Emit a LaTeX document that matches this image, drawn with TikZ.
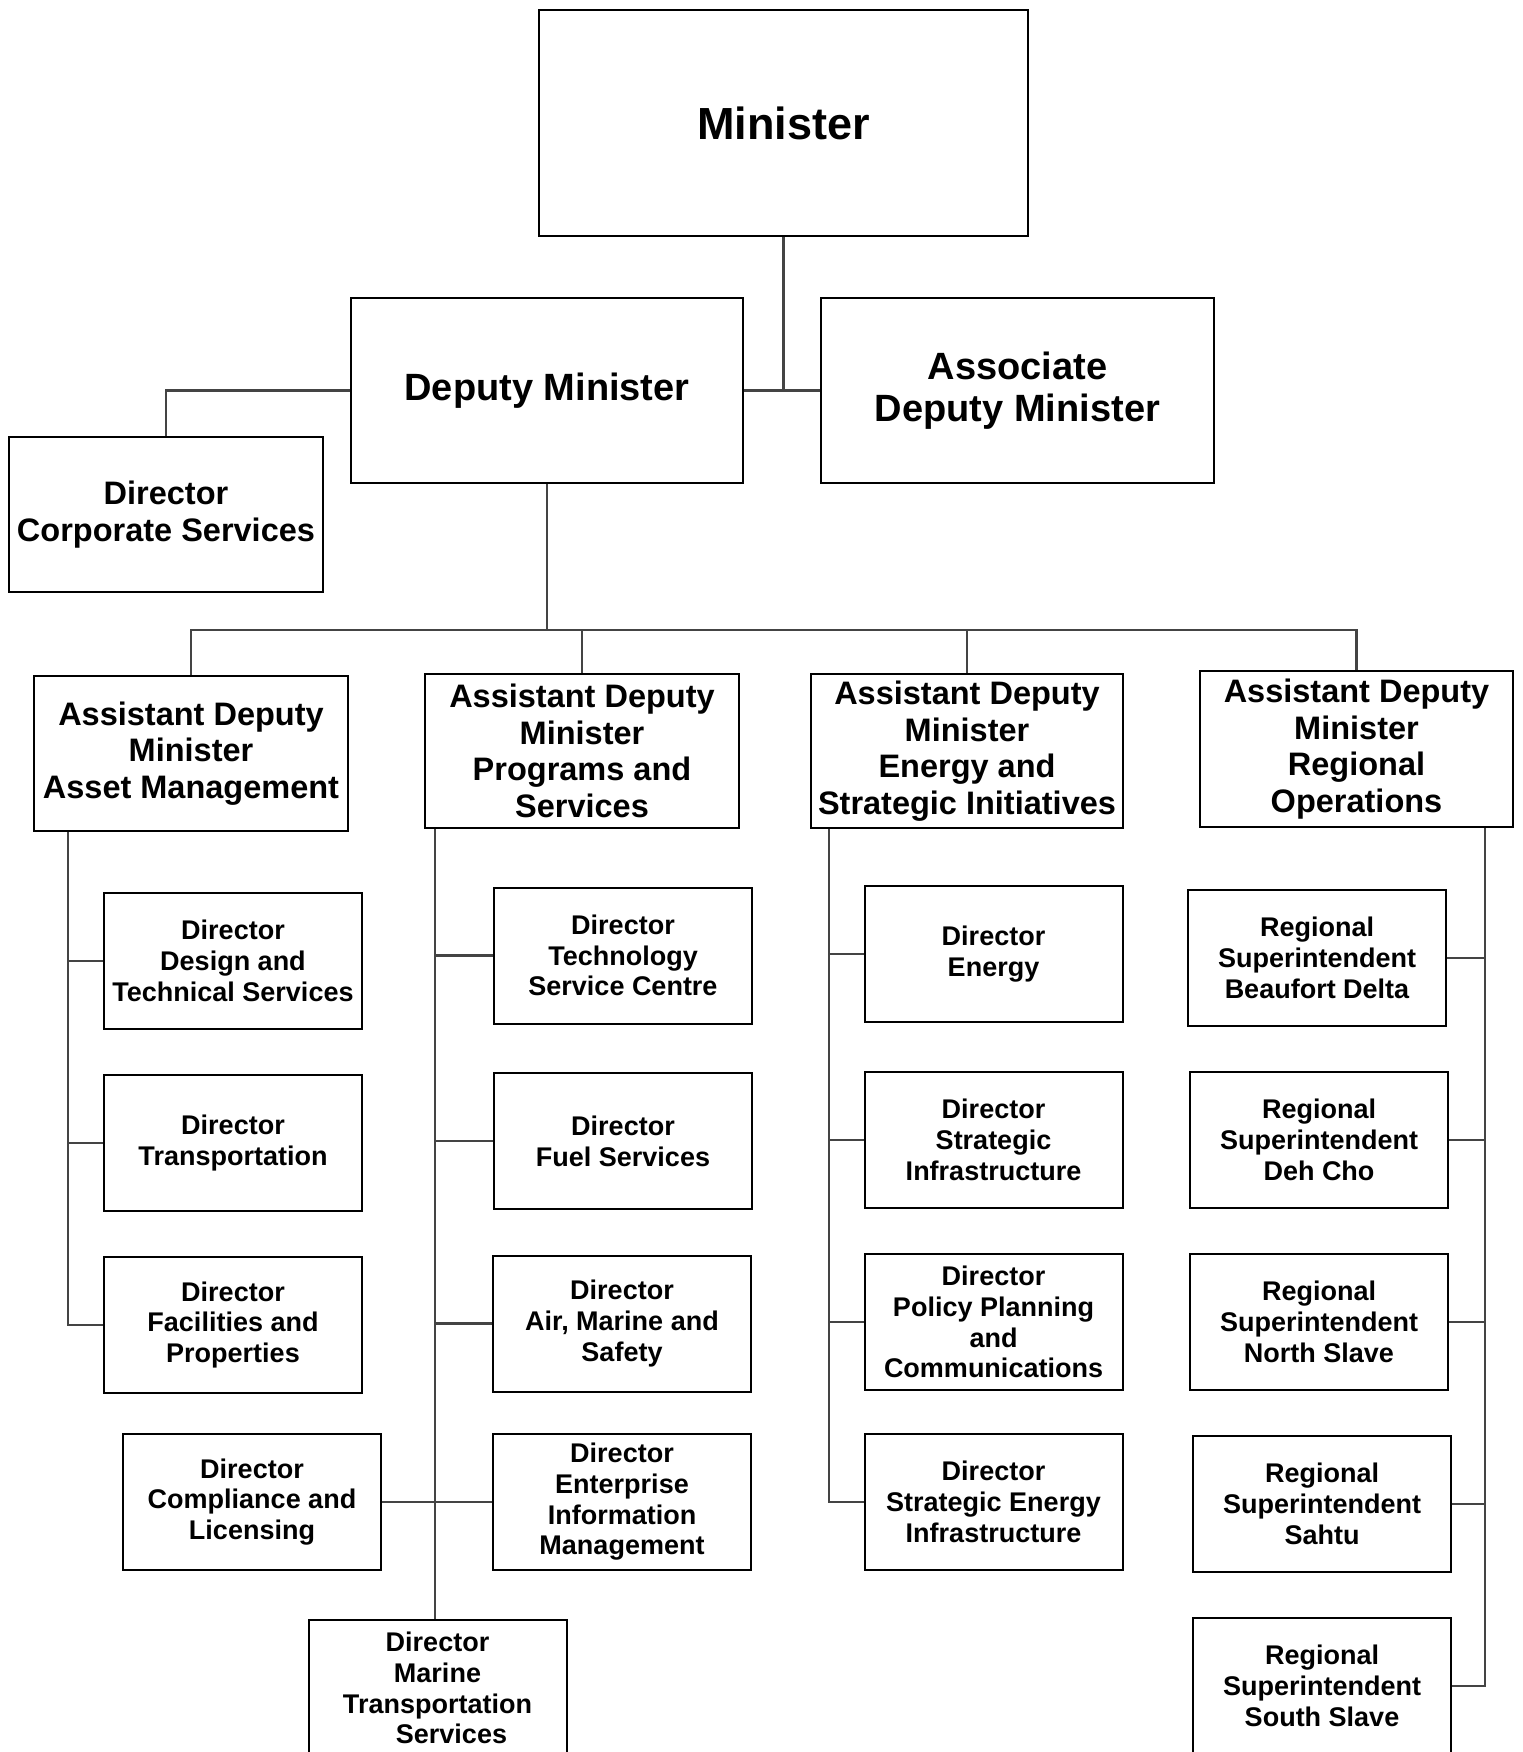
\documentclass[tikz,border=0pt]{standalone}
\usepackage{fontspec}
\setmainfont{Liberation Sans}
\begin{document}
\begin{tikzpicture}[x=1pt,y=-1pt,
  box/.style={draw=black,line width=2pt,fill=white,inner sep=0pt,align=center,font=\bfseries\fontsize{27}{30.7}\selectfont},
  sbox/.style={box,minimum width=258pt,minimum height=136pt},
  adm/.style={box,minimum width=314pt,minimum height=155pt,font=\bfseries\fontsize{32.5}{36.5}\selectfont},
  conn/.style={draw={rgb,255:red,68;green,68;blue,68},line width=2.5pt}]
\useasboundingbox (0,0) rectangle (1522,1752);
% top level
\node[box,minimum width=489pt,minimum height=226pt,font=\bfseries\fontsize{45}{50}\selectfont] (min) at (783.5,123) {Minister};
\node[box,minimum width=392pt,minimum height=185pt,font=\bfseries\fontsize{38}{42.5}\selectfont] (dm) at (547,390.5) {Deputy Minister};
\node[box,minimum width=393pt,minimum height=185pt,font=\bfseries\fontsize{38}{42.5}\selectfont] (asdm) at (1017.5,390.5) {Associate\\Deputy Minister};
\node[box,minimum width=314pt,minimum height=155pt,font=\bfseries\fontsize{32.5}{37}\selectfont] (dcs) at (166,514.5) {Director\\Corporate Services};
% ADMs
\node[adm] (adm1) at (191,753.5) {Assistant Deputy\\Minister\\Asset Management};
\node[adm,minimum height=154pt] (adm2) at (582,751) {Assistant Deputy\\Minister\\Programs and\\Services};
\node[adm,minimum width=312pt,minimum height=154pt] (adm3) at (967,751) {Assistant Deputy\\Minister\\Energy and\\Strategic Initiatives};
\node[adm,minimum width=313pt,minimum height=156pt] (adm4) at (1356.5,749) {Assistant Deputy\\Minister\\Regional\\Operations};
% column 1
\node[sbox] (a1) at (233,961) {Director\\Design and\\Technical Services};
\node[sbox] (a2) at (233,1143) {Director\\Transportation};
\node[sbox] (a3) at (233,1325) {Director\\Facilities and\\Properties};
% column 2
\node[sbox] (b1) at (623,955.5) {Director\\Technology\\Service Centre};
\node[sbox] (b2) at (623,1141) {Director\\Fuel Services};
\node[sbox] (b3) at (622,1323.5) {Director\\Air, Marine and\\Safety};
\node[sbox] (b4) at (622,1502) {Director\\Enterprise\\Information\\Management};
\node[sbox] (b5) at (252,1502) {Director\\Compliance and\\Licensing};
\node[sbox] (b6) at (437.5,1688) {Director\\Marine\\Transportation\\\hspace*{28pt}Services};
% column 3
\node[sbox] (c1) at (993.5,954) {Director\\Energy};
\node[sbox] (c2) at (993.5,1140) {Director\\Strategic\\Infrastructure};
\node[sbox] (c3) at (993.5,1322) {Director\\Policy Planning\\and\\Communications};
\node[sbox] (c4) at (993.5,1502) {Director\\Strategic Energy\\Infrastructure};
% column 4
\node[sbox] (d1) at (1317,958) {Regional\\Superintendent\\Beaufort Delta};
\node[sbox] (d2) at (1319,1140) {Regional\\Superintendent\\Deh Cho};
\node[sbox] (d3) at (1319,1322) {Regional\\Superintendent\\North Slave};
\node[sbox] (d4) at (1322,1504) {Regional\\Superintendent\\Sahtu};
\node[sbox] (d5) at (1322,1686) {Regional\\Superintendent\\South Slave};
% connectors top
\draw[conn] (min.south) -- (min.south |- dm.east);
\draw[conn] (dm.east) -- (asdm.west);
\draw[conn] (dm.west) -| (dcs.north);
\path (dm.south) ++(0,146) coordinate (bus);
\draw[conn] (dm.south) -- (bus);
\draw[conn] (adm1.north) |- (bus) -| (adm4.north);
\draw[conn] (adm2.north) -- (adm2.north |- bus);
\draw[conn] (adm3.north) -- (adm3.north |- bus);
% column spines
\coordinate (s1) at ([xshift=35pt]adm1.south west);
\draw[conn] (s1) |- (a3.west);
\draw[conn] (s1 |- a1.west) -- (a1.west);
\draw[conn] (s1 |- a2.west) -- (a2.west);
\coordinate (s2) at ([xshift=11pt]adm2.south west);
\draw[conn] (s2) -- (s2 |- b6.north);
\draw[conn] (s2 |- b1.west) -- (b1.west);
\draw[conn] (s2 |- b2.west) -- (b2.west);
\draw[conn] (s2 |- b3.west) -- (b3.west);
\draw[conn] (b5.east) -- (b4.west);
\coordinate (s3) at ([xshift=19pt]adm3.south west);
\draw[conn] (s3) |- (c4.west);
\draw[conn] (s3 |- c1.west) -- (c1.west);
\draw[conn] (s3 |- c2.west) -- (c2.west);
\draw[conn] (s3 |- c3.west) -- (c3.west);
\coordinate (s4) at ([xshift=-29pt]adm4.south east);
\draw[conn] (s4) |- (d5.east);
\draw[conn] (s4 |- d1.east) -- (d1.east);
\draw[conn] (s4 |- d2.east) -- (d2.east);
\draw[conn] (s4 |- d3.east) -- (d3.east);
\draw[conn] (s4 |- d4.east) -- (d4.east);
\end{tikzpicture}
\end{document}
